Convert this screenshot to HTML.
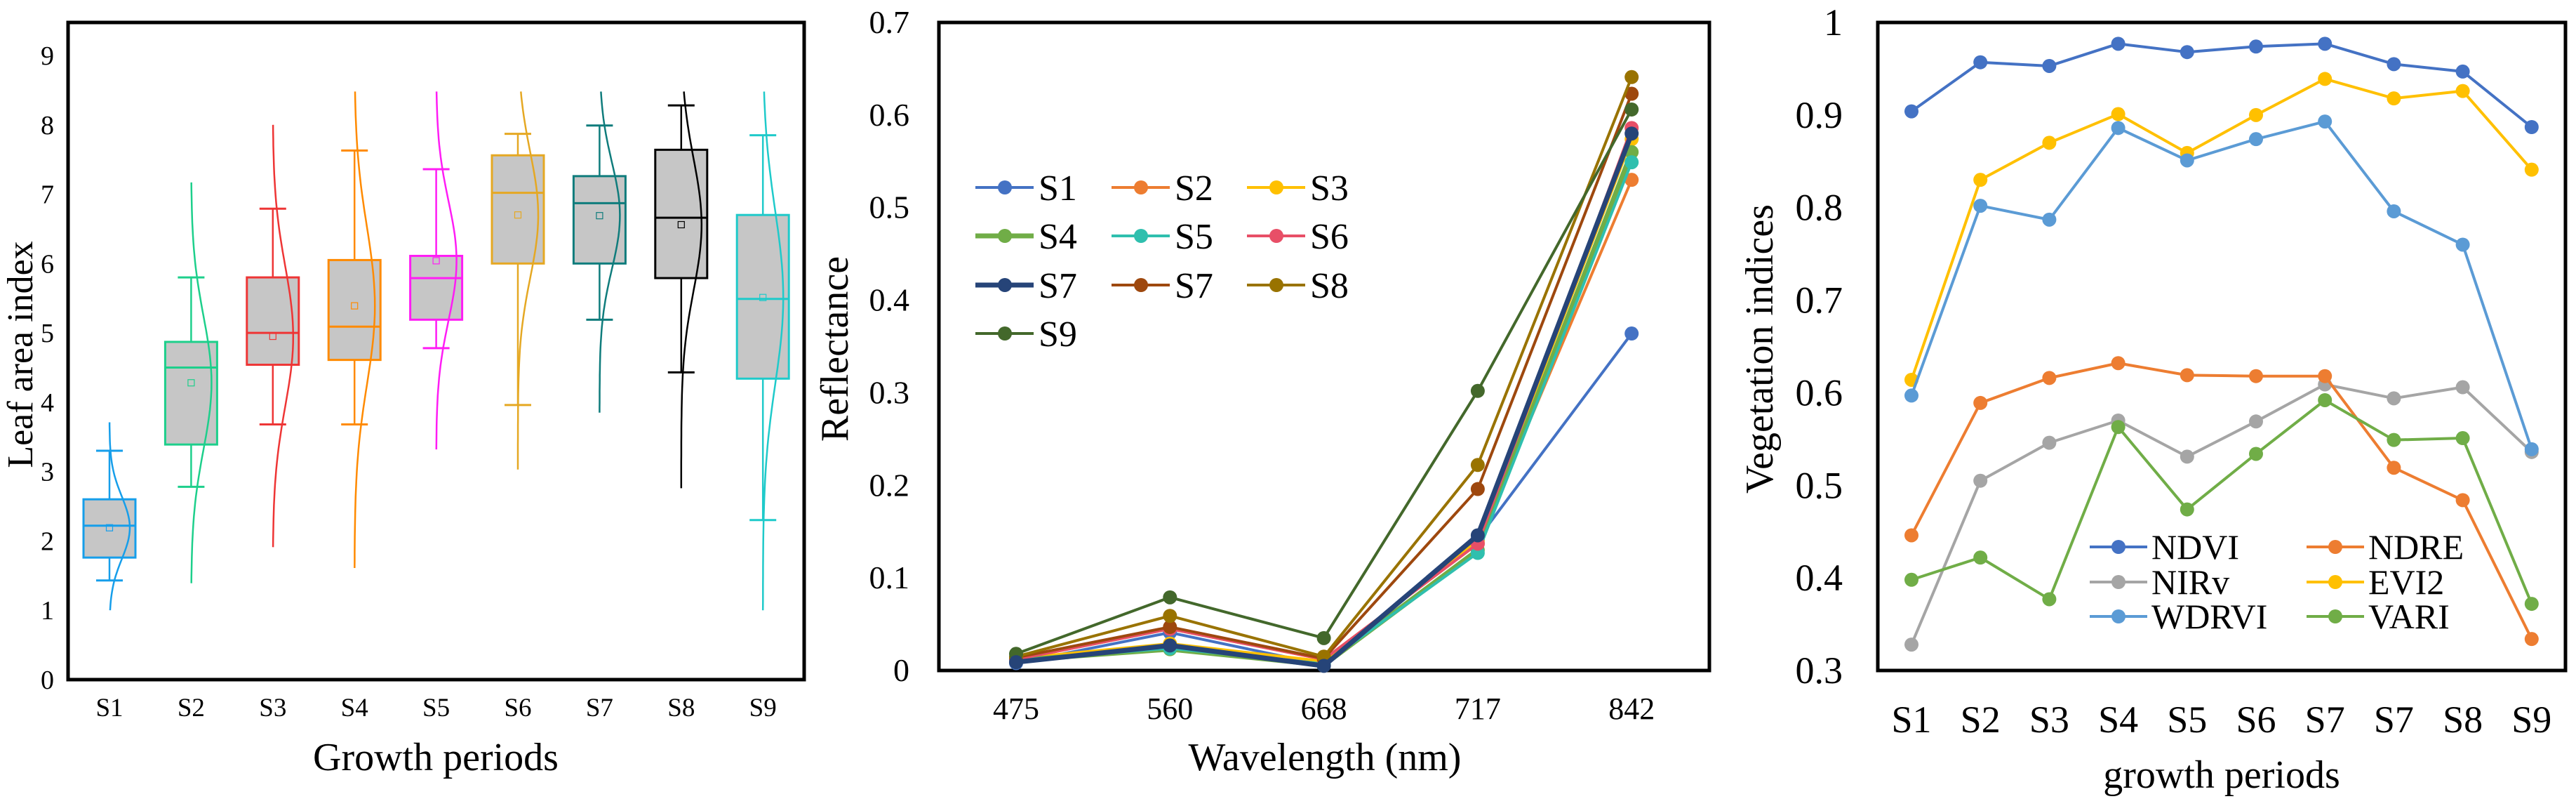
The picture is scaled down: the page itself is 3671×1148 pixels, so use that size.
<!DOCTYPE html>
<html><head><meta charset="utf-8"><style>
html,body{margin:0;padding:0;background:#fff}
svg{display:block}
svg text{font-family:"Liberation Serif","Times New Roman",serif !important}
</style></head><body>
<svg id="fig" width="3671" height="1148" viewBox="0 0 3671 1148" xmlns="http://www.w3.org/2000/svg" font-family="Liberation Serif, Times New Roman, serif">
<g id="p1"></g>
<g id="p2"></g>
<g id="p3"></g>
</svg>
<script>
// ---- Panel 1 data ----
const laiCats = ["S1","S2","S3","S4","S5","S6","S7","S8","S9"];
const laiWhiskLow = [1.43,2.78,3.68,3.68,4.78,3.96,5.19,4.43,2.3];
const laiWhiskHigh = [3.3,5.8,6.79,7.63,7.36,7.87,7.99,8.28,7.85];
const laiQ1 = [1.76,3.39,4.54,4.61,5.19,6.0,6.0,5.79,4.34];
const laiQ3 = [2.6,4.87,5.8,6.05,6.11,7.56,7.26,7.64,6.7];
const laiMedian = [2.22,4.5,5.0,5.09,5.79,7.02,6.87,6.66,5.49];
const laiMean = [2.19,4.28,4.95,5.39,6.04,6.7,6.69,6.56,5.51];
const laiCurveLow = [1.0,1.39,1.91,1.61,3.32,3.03,3.85,2.76,1.0];
const laiCurveHigh = [3.71,7.17,8.0,8.48,8.48,8.48,8.48,8.48,8.48];
const laiYTicks = [0,1,2,3,4,5,6,7,8,9];
const laiColors = ["#169eea","#1dcf8b","#ee3535","#ff8a00","#ff1cf5","#e5a823","#0f7c7c","#000000","#1fcaca"];

// ---- Panel 2 data ----
const wlCats = ["475","560","668","717","842"];
const reflNames = ["S1","S2","S3","S4","S5","S6","S7","S7","S8","S9"];
const reflS1 = [0.008,0.041,0.006,0.142,0.364];
const reflS2 = [0.012,0.045,0.012,0.137,0.53];
const reflS3 = [0.013,0.029,0.01,0.14,0.574];
const reflS4 = [0.011,0.023,0.006,0.13,0.56];
const reflS5 = [0.011,0.024,0.007,0.127,0.549];
const reflS6 = [0.012,0.045,0.012,0.137,0.586];
const reflS7 = [0.009,0.027,0.005,0.146,0.58];
const reflS7b = [0.014,0.047,0.013,0.196,0.623];
const reflS8 = [0.015,0.059,0.015,0.222,0.641];
const reflS9 = [0.018,0.079,0.035,0.302,0.606];
const reflYTicks = [0,0.1,0.2,0.3,0.4,0.5,0.6,0.7];
const reflColors = ["#4472c4","#ed7d31","#ffc000","#70ad47","#2fbfae","#e84f67","#264478","#9e480e","#997300","#43682b"];

// ---- Panel 3 data ----
const viCats = ["S1","S2","S3","S4","S5","S6","S7","S7","S8","S9"];
const viNames = ["NDVI","NDRE","NIRv","EVI2","WDRVI","VARI"];
const viNDVI = [0.904,0.957,0.953,0.977,0.968,0.974,0.977,0.955,0.947,0.887];
const viNDRE = [0.446,0.589,0.616,0.632,0.619,0.618,0.618,0.519,0.484,0.334];
const viNIRv = [0.328,0.505,0.546,0.57,0.531,0.569,0.609,0.594,0.606,0.536];
const viEVI2 = [0.614,0.83,0.87,0.901,0.859,0.9,0.939,0.918,0.926,0.841];
const viWDRVI = [0.597,0.802,0.787,0.886,0.851,0.874,0.893,0.796,0.76,0.539];
const viVARI = [0.398,0.422,0.377,0.563,0.474,0.534,0.592,0.549,0.551,0.372];
const viYTicks = [0.3,0.4,0.5,0.6,0.7,0.8,0.9,1];
const viColors = ["#4472c4","#ed7d31","#a5a5a5","#ffc000","#5b9bd5","#70ad47"];

const NS="http://www.w3.org/2000/svg";
const FF='"Liberation Serif", "Times New Roman", serif';
function mk(parent,tag,attrs,text){const e=document.createElementNS(NS,tag);for(const k in attrs)e.setAttribute(k,attrs[k]);if(tag==='text'){e.style.fontFamily=FF;}if(text!==undefined)e.textContent=text;parent.appendChild(e);return e;}

// ===== Panel 1 =====
(function(){
const g=document.getElementById('p1');
const L=97,R=1146,T=32,B=968;
const y=v=>B-(B-79)*v/9;
const x=i=>156+i*116.4;
let e;
e=mk(g,'rect',{x:L,y:T,width:R-L,height:B-T,fill:'none',stroke:'#000','stroke-width':5});

laiYTicks.forEach(v=>{e=mk(g,'text',{x:77,y:y(v)+13,'text-anchor':'end','font-size':38},String(v));
});
laiCats.forEach((c,i)=>{
const cx=x(i),col=laiColors[i];
const grp=mk(g,'g',{});

mk(grp,'line',{x1:cx,x2:cx,y1:y(laiWhiskLow[i]),y2:y(laiWhiskHigh[i]),stroke:col,'stroke-width':2.5});
mk(grp,'rect',{x:cx-37,y:y(laiQ3[i]),width:74,height:y(laiQ1[i])-y(laiQ3[i]),fill:'#c6c6c6',stroke:col,'stroke-width':3});
mk(grp,'line',{x1:cx-37,x2:cx+37,y1:y(laiMedian[i]),y2:y(laiMedian[i]),stroke:col,'stroke-width':3});
[laiWhiskLow[i],laiWhiskHigh[i]].forEach(v=>mk(grp,'line',{x1:cx-19,x2:cx+19,y1:y(v),y2:y(v),stroke:col,'stroke-width':3}));
mk(grp,'rect',{x:cx-4.5,y:y(laiMean[i])-4.5,width:9,height:9,fill:'none',stroke:col,'stroke-width':1.2});
const mu=laiMean[i],sd=(laiCurveHigh[i]-laiCurveLow[i])/6;
let d='';
for(let k=0;k<=60;k++){const v=laiCurveLow[i]+(laiCurveHigh[i]-laiCurveLow[i])*k/60;
const px=cx+29*Math.exp(-0.5*((v-mu)/sd)**2);d+=(k?'L':'M')+px.toFixed(1)+' '+y(v).toFixed(1);}
mk(grp,'path',{d:d,fill:'none',stroke:col,'stroke-width':2.5});
e=mk(g,'text',{x:cx,y:1020,'text-anchor':'middle','font-size':37},c);

});
e=mk(g,'text',{x:621,y:1097,'text-anchor':'middle','font-size':56},'Growth periods');

e=mk(g,'text',{x:0,y:0,'text-anchor':'middle','font-size':52,transform:'translate(46,505) rotate(-90)'},'Leaf area index');

})();

// ===== Panel 2 =====
(function(){
const g=document.getElementById('p2');
const L=1338,R=2436,T=32,B=955;
const y=v=>B-(B-T)*v/0.7;
const x=i=>1448+i*219.3;
let e;
e=mk(g,'rect',{x:L,y:T,width:R-L,height:B-T,fill:'none',stroke:'#000','stroke-width':5});

reflYTicks.forEach(v=>{e=mk(g,'text',{x:1296,y:y(v)+15,'text-anchor':'end','font-size':46},v===0?'0':v.toFixed(1));
});
wlCats.forEach((c,i)=>{e=mk(g,'text',{x:x(i),y:1024,'text-anchor':'middle','font-size':44},c);
});
const series=[reflS1,reflS2,reflS3,reflS4,reflS5,reflS6,reflS7,reflS7b,reflS8,reflS9];
const order=[0,1,2,3,4,5,7,8,9,6];
order.forEach(s=>{
const col=reflColors[s],w=(s===3||s===6)?7:4;
const grp=mk(g,'g',{});

mk(grp,'polyline',{points:series[s].map((v,i)=>x(i)+','+y(v)).join(' '),fill:'none',stroke:col,'stroke-width':w,'stroke-linejoin':'round'});
series[s].forEach((v,i)=>mk(grp,'circle',{cx:x(i),cy:y(v),r:10,fill:col}));
});
const lx=[1390,1584,1777],ly=[267,336,406,475];
reflNames.forEach((n,s)=>{
const cx=lx[s%3],cy=ly[Math.floor(s/3)],col=reflColors[s];
const lg=mk(g,'g',{});

mk(lg,'line',{x1:cx,x2:cx+83,y1:cy,y2:cy,stroke:col,'stroke-width':(s===3||s===6)?7:4});
mk(lg,'circle',{cx:cx+42,cy:cy,r:10,fill:col});
mk(lg,'text',{x:cx+90,y:cy+18,'font-size':52},n);
});
e=mk(g,'text',{x:1888,y:1097,'text-anchor':'middle','font-size':56},'Wavelength (nm)');

e=mk(g,'text',{x:0,y:0,'text-anchor':'middle','font-size':56,transform:'translate(1208,497) rotate(-90)'},'Reflectance');

})();

// ===== Panel 3 =====
(function(){
const g=document.getElementById('p3');
const L=2676,R=3656,T=32,B=955;
const y=v=>B-(B-T)*(v-0.3)/0.7;
const x=i=>2724+i*98.2;
let e;
e=mk(g,'rect',{x:L,y:T,width:R-L,height:B-T,fill:'none',stroke:'#000','stroke-width':5});

viYTicks.forEach(v=>{e=mk(g,'text',{x:2626,y:y(v)+18,'text-anchor':'end','font-size':54},v===1?'1':v.toFixed(1));
});
viCats.forEach((c,i)=>{e=mk(g,'text',{x:x(i),y:1043,'text-anchor':'middle','font-size':54},c);
});
const series=[viNDVI,viNDRE,viNIRv,viEVI2,viWDRVI,viVARI];
const order=[2,1,5,3,4,0];
order.forEach(s=>{
const col=viColors[s];
const grp=mk(g,'g',{});

mk(grp,'polyline',{points:series[s].map((v,i)=>x(i)+','+y(v)).join(' '),fill:'none',stroke:col,'stroke-width':4,'stroke-linejoin':'round'});
series[s].forEach((v,i)=>mk(grp,'circle',{cx:x(i),cy:y(v),r:10,fill:col}));
});
const lx=[2978,3287],ly=[779,829,878];
viNames.forEach((n,s)=>{
const cx=lx[s%2],cy=ly[Math.floor(s/2)],col=viColors[s];
const lg=mk(g,'g',{});

mk(lg,'line',{x1:cx,x2:cx+82,y1:cy,y2:cy,stroke:col,'stroke-width':4});
mk(lg,'circle',{cx:cx+41,cy:cy,r:10,fill:col});
mk(lg,'text',{x:cx+88,y:cy+17,'font-size':50},n);
});
e=mk(g,'text',{x:3166,y:1122,'text-anchor':'middle','font-size':56},'growth periods');

e=mk(g,'text',{x:0,y:0,'text-anchor':'middle','font-size':56,transform:'translate(2526,497) rotate(-90)'},'Vegetation indices');

})();
</script>
</body></html>
